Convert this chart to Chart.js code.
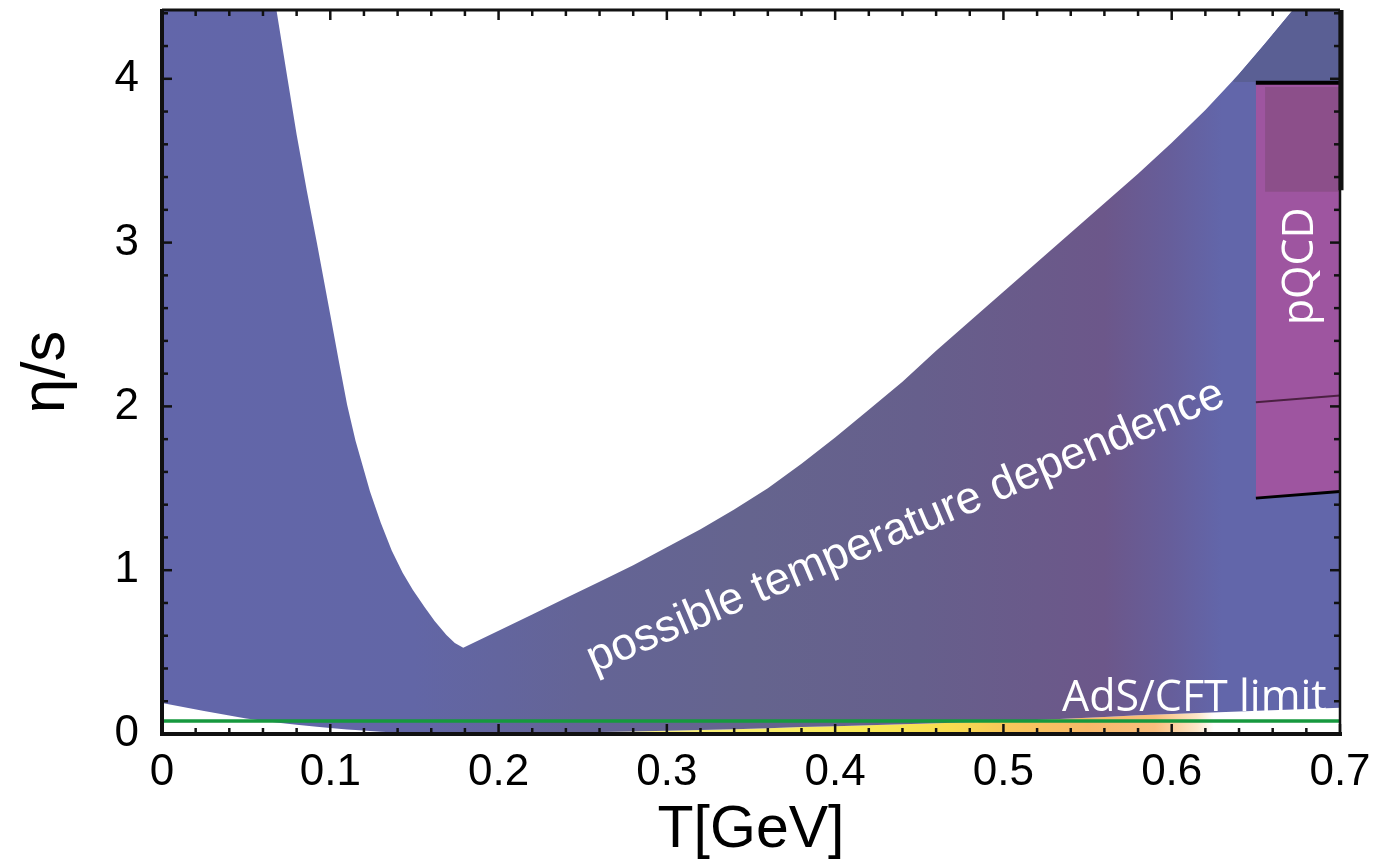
<!DOCTYPE html>
<html><head><meta charset="utf-8">
<script src="https://cdn.jsdelivr.net/npm/chart.js@4.4.1/dist/chart.umd.min.js"></script>
<style>html,body{margin:0;padding:0;background:#fff;overflow:hidden}</style>
</head><body>
<canvas id="c" width="1380" height="866"></canvas>
<script>
// ---- data ----
const T        = [0, 0.025, 0.05, 0.068, 0.0746, 0.08, 0.086, 0.092, 0.1, 0.105, 0.11, 0.115, 0.1236, 0.13, 0.1365, 0.143, 0.149, 0.156, 0.162, 0.169, 0.174, 0.179,
                  0.2, 0.22, 0.24, 0.26, 0.28, 0.30, 0.32, 0.34, 0.36, 0.38, 0.40, 0.42, 0.44, 0.46, 0.48, 0.50, 0.52, 0.54, 0.56, 0.58, 0.60, 0.62, 0.64, 0.655, 0.672, 0.7];
const etaUpper = [4.42, 4.42, 4.42, 4.42, 4.0, 3.66, 3.32, 3.0, 2.56, 2.28, 2.01, 1.79, 1.48, 1.29, 1.12, 0.985, 0.88, 0.775, 0.69, 0.605, 0.555, 0.527,
                  0.63, 0.73, 0.83, 0.93, 1.03, 1.14, 1.25, 1.37, 1.50, 1.65, 1.81, 1.98, 2.15, 2.34, 2.52, 2.70, 2.88, 3.06, 3.24, 3.42, 3.61, 3.81, 4.03, 4.21, 4.42, 4.42];
const etaLower = [0.19, 0.14, 0.095, 0.07, 0.063, 0.057, 0.05, 0.044, 0.037, 0.032, 0.028, 0.024, 0.018, 0.014, 0.01, 0.007, 0.004, 0.002, 0.001, 0, 0, 0,
                  0.003, 0.006, 0.009, 0.012, 0.016, 0.02, 0.024, 0.029, 0.035, 0.042, 0.048, 0.054, 0.06, 0.065, 0.071, 0.078, 0.086, 0.095, 0.104, 0.114, 0.122, 0.13, 0.137, 0.143, 0.15, 0.16];
const capT = [0.6366, 0.64, 0.655, 0.672, 0.70];
const capTop = [3.99, 4.03, 4.21, 4.42, 4.42];
const capBase = 3.98;
const pqcdT = [0.65, 0.70];
const pqcdTop = [3.976, 3.976];
const pqcdBottom = [1.44, 1.48];
const pqcdMid = [2.026, 2.067];
const pqcdInnerT = [0.6555, 0.70];
const pqcdInnerTop = [3.95, 3.95];
const pqcdInnerBottom = 3.31;
const adsT = [0, 0.7];
const adsLimit = [0.0796, 0.0796];
const xTickValues = [0, 0.1, 0.2, 0.3, 0.4, 0.5, 0.6, 0.7];
const xTickLabels = ['0', '0.1', '0.2', '0.3', '0.4', '0.5', '0.6', '0.7'];
const yTickValues = [0, 1, 2, 3, 4];
const yTickLabels = ['0', '1', '2', '3', '4'];
const xTitle = 'T[GeV]';
const yTitle = 'η/s';
const bandLabel = 'possible temperature dependence';
const adsLabel = 'AdS/CFT limit';
const pqcdLabel = 'pQCD';

// ---- colour stops (T position -> colour) ----
const blueStops = [[0,'rgb(98,102,170)'],[0.15,'rgb(98,102,166)'],[0.25,'rgb(100,100,150)'],[0.35,'rgb(101,100,142)'],[0.45,'rgb(102,95,140)'],[0.52,'rgb(106,90,138)'],[0.56,'rgb(108,87,138)'],[0.60,'rgb(102,94,155)'],[0.63,'rgb(98,102,170)'],[0.70,'rgb(98,102,170)']];
const yellowStops = [[0,'#ffffff'],[0.16,'#ffffff'],[0.2,'rgb(252,246,160)'],[0.3,'rgb(250,242,125)'],[0.42,'rgb(248,232,85)'],[0.47,'rgb(248,220,80)'],[0.5,'rgb(248,200,90)'],[0.55,'rgb(248,185,105)'],[0.59,'rgb(249,190,125)'],[0.615,'rgb(252,230,200)'],[0.625,'#ffffff'],[0.7,'#ffffff']];

function pts(xs, ys){ return xs.map((x,i)=>({x:x, y:ys[i]})); }
function gradient(stops){
  return function(c){
    const ch = c.chart, a = ch.chartArea;
    if (!a) return 'rgba(0,0,0,0)';
    const xs = ch.scales.x;
    const g = ch.ctx.createLinearGradient(a.left, 0, a.right, 0);
    stops.forEach(([t,col])=>{
      const f = (xs.getPixelForValue(t) - a.left)/(a.right - a.left);
      g.addColorStop(Math.min(1,Math.max(0,f)), col);
    });
    return g;
  };
}

const base = {pointRadius:0, pointHoverRadius:0, tension:0};
const FONT = '"Liberation Sans", Arial, Helvetica, sans-serif';

const overlay = {
  id:'overlay',
  afterDatasetsDraw(chart){
    const {ctx, chartArea:a, scales:{x, y}} = chart;
    ctx.save();
    ctx.beginPath(); ctx.rect(a.left, a.top, a.right-a.left, a.bottom-a.top); ctx.clip();
    ctx.fillStyle = '#ffffff';
    // band label
    ctx.save();
    ctx.translate(x.getPixelForValue(0.2567), y.getPixelForValue(0.372));
    ctx.rotate(-23.0*Math.PI/180);
    ctx.font = '45.5px ' + FONT;
    ctx.textAlign='left'; ctx.textBaseline='alphabetic';
    ctx.fillText(bandLabel, 0, 0);
    ctx.restore();
    // AdS label
    ctx.font = '43px "Open Sans", sans-serif';
    ctx.textAlign='left'; ctx.textBaseline='alphabetic';
    ctx.fillText(adsLabel, x.getPixelForValue(0.5348), y.getPixelForValue(0.14));
    // pQCD label
    ctx.save();
    ctx.translate(x.getPixelForValue(0.684), y.getPixelForValue(2.855));
    ctx.rotate(-Math.PI/2);
    ctx.textAlign='center'; ctx.textBaseline='alphabetic';
    ctx.fillText(pqcdLabel, 0, 0);
    ctx.restore();
    ctx.restore();

    // ticks (inward, mirrored)
    ctx.save();
    ctx.strokeStyle = '#111'; ctx.lineWidth = 2.5;
    const seg = (x1,y1,x2,y2)=>{ctx.beginPath();ctx.moveTo(x1,y1);ctx.lineTo(x2,y2);ctx.stroke();};
    for (let i=0;i<=35;i++){
      const px = x.getPixelForValue(i*0.02);
      const L = (i%5===0)?10:6;
      seg(px, a.bottom, px, a.bottom-L);
      seg(px, a.top, px, a.top+L);
    }
    for (let i=0;i<=22;i++){
      const py = y.getPixelForValue(i*0.2);
      if (py < a.top) continue;
      const L = (i%5===0)?10:6;
      seg(a.left, py, a.left+L, py);
      seg(a.right, py, a.right-L, py);
    }
    // frame
    ctx.strokeStyle = '#111';
    ctx.lineWidth = 4;
    seg(a.left, a.top-1, a.left, a.bottom+2);
    seg(a.left-2, a.bottom, a.right+2, a.bottom);
    ctx.lineWidth = 3;
    seg(a.left, a.top, a.right, a.top);
    ctx.lineWidth = 2.5;
    seg(a.right, a.top, a.right, a.bottom);
    ctx.lineWidth = 5;
    seg(a.right+1, a.top, a.right+1, y.getPixelForValue(3.32));
    ctx.restore();
  }
};

new Chart(document.getElementById('c'), {
  type:'line',
  data:{datasets:[
    {...base, data:pts(T, etaLower), fill:'origin', backgroundColor:gradient(yellowStops), borderWidth:0, order:10},
    {...base, data:pts(T, etaUpper), fill:{target:0}, backgroundColor:gradient(blueStops), borderWidth:0, order:9},
    {...base, data:pts(capT, capTop), fill:{value:capBase}, backgroundColor:'rgb(90,95,148)', borderWidth:0, order:8},
    {...base, data:pts(pqcdT, pqcdTop), fill:{target:4}, backgroundColor:'rgb(158,85,160)', borderColor:'#000', borderWidth:4, order:7},
    {...base, data:pts(pqcdT, pqcdBottom), fill:false, borderColor:'#000', borderWidth:3, order:5},
    {...base, data:pts(pqcdInnerT, pqcdInnerTop), fill:{value:pqcdInnerBottom}, backgroundColor:'rgb(140,79,138)', borderWidth:0, order:6},
    {...base, data:pts(pqcdT, pqcdMid), fill:false, borderColor:'rgb(75,32,66)', borderWidth:2, order:4},
    {...base, data:pts(adsT, adsLimit), fill:false, borderColor:'rgb(22,152,62)', borderWidth:3.5, order:1}
  ]},
  options:{
    responsive:false, animation:false, devicePixelRatio:1,
    layout:{padding:{left:0, right:40, top:10, bottom:0}},
    plugins:{legend:{display:false}, tooltip:{enabled:false}},
    scales:{
      x:{type:'linear', min:0, max:0.7,
        grid:{display:false, drawTicks:false}, border:{display:false},
        afterBuildTicks:(s)=>{ s.ticks = xTickValues.map(v=>({value:v})); },
        afterFit:(s)=>{ s.height = 132; s.paddingLeft = 0; s.paddingRight = 0; },
        ticks:{autoSkip:false, maxRotation:0, padding:12, color:'#000',
          font:{family:FONT, size:44},
          callback:(v,i)=>xTickLabels[i]},
        title:{display:true, text:xTitle, color:'#000', padding:{top:0,bottom:0},
          font:{family:FONT, size:59}}
      },
      y:{type:'linear', min:0, max:4.42,
        grid:{display:false, drawTicks:false}, border:{display:false},
        afterBuildTicks:(s)=>{ s.ticks = yTickValues.map(v=>({value:v})); },
        afterFit:(s)=>{ s.width = 162; s.paddingTop = 0; s.paddingBottom = 0; },
        ticks:{autoSkip:false, padding:23, color:'#000',
          font:{family:FONT, size:44},
          callback:(v,i)=>yTickLabels[i]},
        title:{display:true, text:yTitle, color:'#000', padding:{top:10,bottom:0},
          font:{family:FONT, size:62}}
      }
    }
  },
  plugins:[overlay]
});
</script>
</body></html>
